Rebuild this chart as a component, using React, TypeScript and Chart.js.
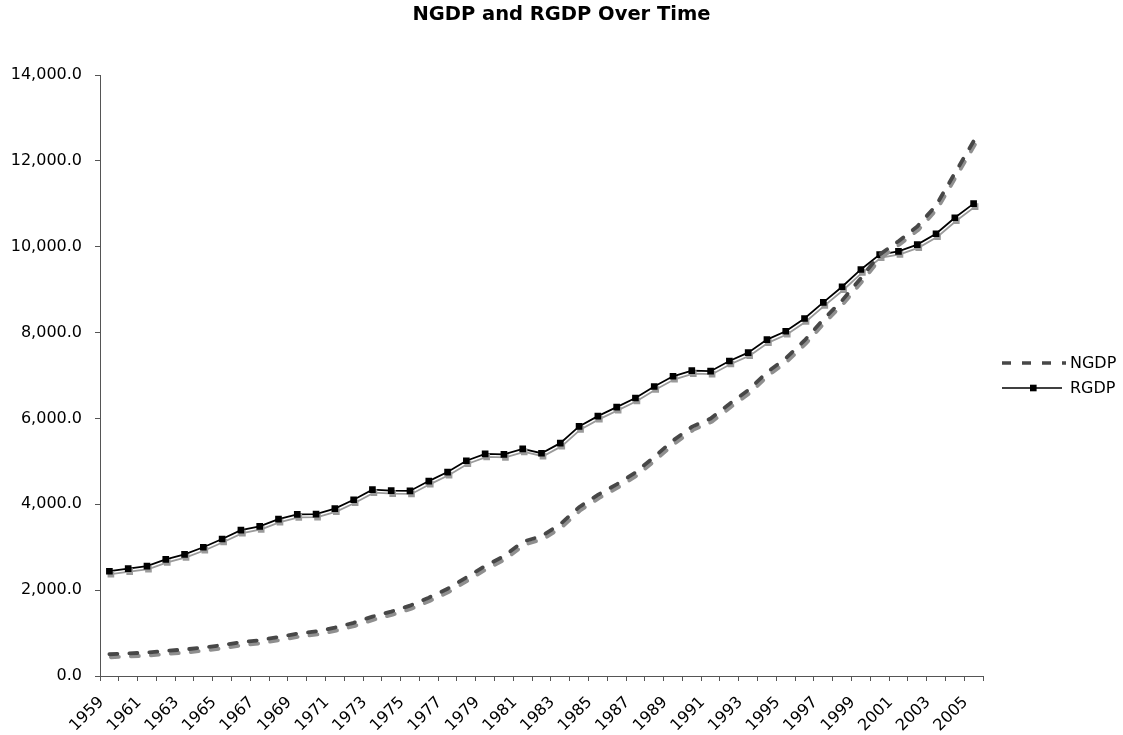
import { useEffect, useRef } from 'react';
import { Chart, registerables } from 'chart.js';

Chart.register(...registerables);

// Calendar years on the category axis
const years = [
  '1959', '1960', '1961', '1962', '1963', '1964', '1965', '1966', '1967', '1968',
  '1969', '1970', '1971', '1972', '1973', '1974', '1975', '1976', '1977', '1978',
  '1979', '1980', '1981', '1982', '1983', '1984', '1985', '1986', '1987', '1988',
  '1989', '1990', '1991', '1992', '1993', '1994', '1995', '1996', '1997', '1998',
  '1999', '2000', '2001', '2002', '2003', '2004', '2005',
];

// Nominal GDP, billions of dollars
const ngdp = [
  506.6, 526.4, 544.7, 585.6, 617.7, 663.6, 719.1, 787.8, 832.6, 910.0,
  984.6, 1038.5, 1127.1, 1238.3, 1382.7, 1500.0, 1638.3, 1825.3, 2030.9, 2294.7,
  2563.3, 2789.5, 3128.4, 3255.0, 3536.7, 3933.2, 4220.3, 4462.8, 4739.5, 5103.8,
  5484.4, 5803.1, 5995.9, 6337.7, 6657.4, 7072.2, 7397.7, 7816.9, 8304.3, 8747.0,
  9268.4, 9817.0, 10128.0, 10469.6, 10960.8, 11712.5, 12455.8,
];

// Real GDP, billions of chained 2000 dollars
const rgdp = [
  2441.3, 2501.8, 2560.0, 2715.2, 2834.0, 2998.6, 3191.1, 3399.1, 3484.6, 3652.7,
  3765.4, 3771.9, 3898.6, 4105.0, 4341.5, 4319.6, 4311.2, 4540.9, 4750.5, 5015.0,
  5173.4, 5161.7, 5291.7, 5189.3, 5423.8, 5813.6, 6053.7, 6263.6, 6475.1, 6742.7,
  6981.4, 7112.5, 7100.5, 7336.6, 7532.7, 7835.5, 8031.7, 8328.9, 8703.5, 9066.9,
  9470.3, 9817.0, 9890.7, 10048.8, 10301.0, 10675.8, 11003.4,
];

const yMin = 0;
const yMax = 14000;
const yStep = 2000;

const TITLE = 'NGDP and RGDP Over Time';
const FONT = "'DejaVu Sans', Verdana, sans-serif";
const AXIS_COLOR = '#555555';

const NGDP_COLOR = '#474747';
const RGDP_COLOR = '#000000';

// Offset drop shadow under every series line
const shadowPlugin = {
  id: 'seriesShadow',
  beforeDatasetDraw(chart: any, args: any) {
    const ctx = chart.ctx;
    ctx.save();
    const ds = chart.data.datasets[args.index];
    ctx.shadowColor = ds.shadowColor || 'rgba(0,0,0,0.4)';
    ctx.shadowOffsetX = 1.5;
    ctx.shadowOffsetY = 3;
    ctx.shadowBlur = 0;
  },
  afterDatasetDraw(chart: any) {
    chart.ctx.restore();
  },
};

// Title centred across the whole canvas
const canvasTitlePlugin = {
  id: 'canvasTitle',
  afterDraw(chart: any) {
    const ctx = chart.ctx;
    ctx.save();
    ctx.fillStyle = '#000';
    ctx.font = `bold 19.5px ${FONT}`;
    ctx.textAlign = 'center';
    ctx.textBaseline = 'middle';
    ctx.fillText(TITLE, chart.width / 2, 15);
    ctx.restore();
  },
};

// Legend to the right of the plot: line sample followed by the series name
const sideLegendPlugin = {
  id: 'sideLegend',
  afterDraw(chart: any) {
    const ctx = chart.ctx;
    const area = chart.chartArea;
    const x0 = area.right + 19;
    const len = 64;
    const mid = (area.top + area.bottom) / 2;
    const rows = [mid - 12.5, mid + 12.5];

    ctx.save();
    // NGDP sample
    ctx.strokeStyle = NGDP_COLOR;
    ctx.lineWidth = 3.5;
    ctx.setLineDash([9, 11]);
    ctx.beginPath();
    ctx.moveTo(x0, rows[0]);
    ctx.lineTo(x0 + len, rows[0]);
    ctx.stroke();

    // RGDP sample
    ctx.setLineDash([]);
    ctx.strokeStyle = RGDP_COLOR;
    ctx.lineWidth = 1.5;
    ctx.beginPath();
    ctx.moveTo(x0, rows[1]);
    ctx.lineTo(x0 + len - 4, rows[1]);
    ctx.stroke();
    ctx.fillStyle = RGDP_COLOR;
    ctx.fillRect(x0 + 28, rows[1] - 3.3, 6.6, 6.6);

    ctx.fillStyle = '#000';
    ctx.font = `16px ${FONT}`;
    ctx.textAlign = 'left';
    ctx.textBaseline = 'middle';
    ctx.fillText('NGDP', x0 + len + 4, rows[0] + 1);
    ctx.fillText('RGDP', x0 + len + 4, rows[1] + 1);
    ctx.restore();
  },
};

export default function App() {
  const canvasRef = useRef<HTMLCanvasElement | null>(null);

  useEffect(() => {
    if (!canvasRef.current) return;
    const chart = new Chart(canvasRef.current, {
      type: 'line',
      data: {
        labels: years,
        datasets: [
          {
            label: 'NGDP',
            data: ngdp,
            borderColor: NGDP_COLOR,
            borderWidth: 3.8,
            borderDash: [8, 12],
            borderCapStyle: 'round',
            pointRadius: 0,
            pointHoverRadius: 0,
            tension: 0,
            fill: false,
            shadowColor: '#8f8f8f',
          } as any,
          {
            label: 'RGDP',
            data: rgdp,
            borderColor: RGDP_COLOR,
            borderWidth: 1.8,
            pointStyle: 'rect',
            pointRadius: 4.7,
            pointBorderWidth: 0,
            pointBackgroundColor: RGDP_COLOR,
            pointBorderColor: RGDP_COLOR,
            tension: 0,
            fill: false,
            shadowColor: '#9a9a9a',
          } as any,
        ],
      },
      options: {
        animation: false,
        responsive: true,
        maintainAspectRatio: false,
        layout: { padding: { left: 0, right: 140, top: 75, bottom: 0 } },
        plugins: {
          legend: { display: false },
          tooltip: { enabled: false },
          title: { display: false },
        },
        scales: {
          x: {
            type: 'category',
            offset: true,
            grid: {
              display: true,
              drawOnChartArea: false,
              drawTicks: true,
              tickLength: 5,
              offset: true,
              color: AXIS_COLOR,
            },
            border: { display: true, color: AXIS_COLOR, width: 1 },
            ticks: {
              autoSkip: false,
              maxRotation: 45,
              minRotation: 45,
              padding: 12,
              labelOffset: -8,
              color: '#000',
              font: { family: FONT, size: 16 },
              callback: (_v: any, i: number) => (i % 2 === 0 ? years[i] : ''),
            },
            afterFit: (scale: any) => {
              scale.height = 59;
            },
          },
          y: {
            min: yMin,
            max: yMax,
            grid: {
              display: true,
              drawOnChartArea: false,
              drawTicks: true,
              tickLength: 5,
              color: AXIS_COLOR,
            },
            border: { display: true, color: AXIS_COLOR, width: 1 },
            ticks: {
              stepSize: yStep,
              padding: 13,
              color: '#000',
              font: { family: FONT, size: 16 },
              callback: (v: any) =>
                Number(v).toLocaleString('en-US', {
                  minimumFractionDigits: 1,
                  maximumFractionDigits: 1,
                }),
            },
            afterFit: (scale: any) => {
              scale.width = 100;
            },
          },
        },
      },
      plugins: [shadowPlugin, canvasTitlePlugin, sideLegendPlugin],
    });
    return () => chart.destroy();
  }, []);

  return (
    <div style={{ position: 'absolute', left: 0, top: 0, width: 1123, height: 735, background: '#fff' }}>
      <canvas ref={canvasRef} />
    </div>
  );
}
